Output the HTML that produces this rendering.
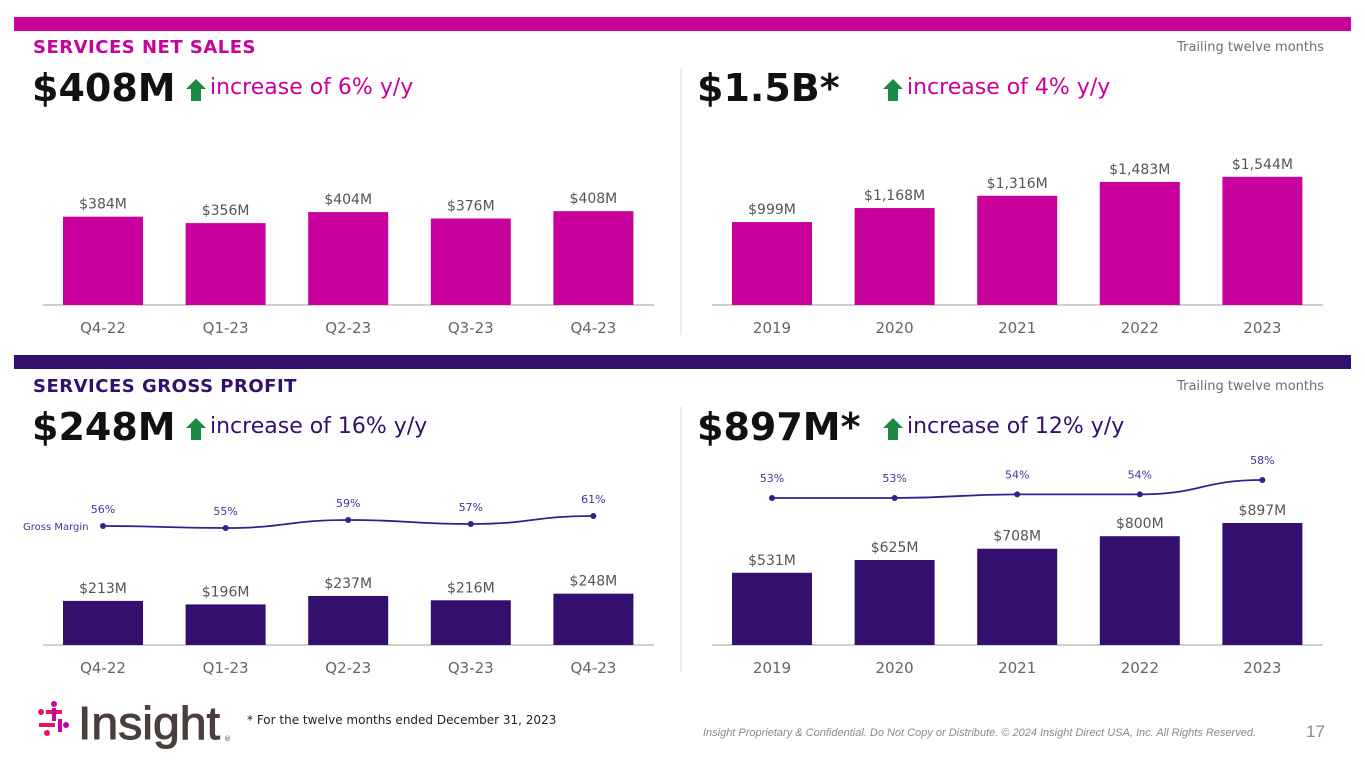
<!DOCTYPE html>
<html><head><meta charset="utf-8"><style>
body{margin:0;width:1365px;height:768px;background:#fff;font-family:"Liberation Sans","DejaVu Sans",sans-serif;overflow:hidden;position:relative}
.abs{position:absolute;white-space:nowrap}
.hdr{font-family:"DejaVu Sans",sans-serif;font-weight:bold;font-size:18px;letter-spacing:0.5px}
.ttm{font-family:"DejaVu Sans",sans-serif;font-size:13px;color:#6e6e6e}
.big{font-family:"DejaVu Sans",sans-serif;font-weight:bold;font-size:38px;color:#111}
.inc{font-family:"DejaVu Sans",sans-serif;font-size:22px}
.arr{position:absolute}
svg text{font-family:"DejaVu Sans",sans-serif}
</style></head><body>
<div class="abs" style="left:14px;top:17px;width:1337px;height:14px;background:#c8009c"></div>
<div class="abs" style="left:14px;top:355px;width:1337px;height:14px;background:#330f6e"></div>
<div class="abs hdr" style="left:33px;top:37px;color:#c8009c">SERVICES NET SALES</div>
<div class="abs ttm" style="right:41px;top:40px">Trailing twelve months</div>
<div class="abs hdr" style="left:33px;top:376px;color:#330f6e">SERVICES GROSS PROFIT</div>
<div class="abs ttm" style="right:41px;top:379px">Trailing twelve months</div>

<svg class="arr" style="left:186px;top:79px" width="20" height="23"><polygon points="10,0 20,10 15,10 15,22 5,22 5,10 0,10" fill="#1a8a45"/></svg>
<svg class="arr" style="left:883px;top:79px" width="20" height="23"><polygon points="10,0 20,10 15,10 15,22 5,22 5,10 0,10" fill="#1a8a45"/></svg>
<svg class="arr" style="left:186px;top:418px" width="20" height="23"><polygon points="10,0 20,10 15,10 15,22 5,22 5,10 0,10" fill="#1a8a45"/></svg>
<svg class="arr" style="left:883px;top:418px" width="20" height="23"><polygon points="10,0 20,10 15,10 15,22 5,22 5,10 0,10" fill="#1a8a45"/></svg>

<div class="abs big" style="left:32px;top:66px">$408M</div>
<div class="abs inc" style="left:210px;top:75px;color:#c8009c">increase of 6% y/y</div>
<div class="abs big" style="left:697px;top:66px">$1.5B*</div>
<div class="abs inc" style="left:907px;top:75px;color:#c8009c">increase of 4% y/y</div>
<div class="abs big" style="left:32px;top:405px">$248M</div>
<div class="abs inc" style="left:210px;top:414px;color:#330f6e">increase of 16% y/y</div>
<div class="abs big" style="left:697px;top:405px">$897M*</div>
<div class="abs inc" style="left:907px;top:414px;color:#330f6e">increase of 12% y/y</div>

<svg id="charts" class="abs" style="left:0;top:0" width="1365" height="768">
<line x1="681" y1="68" x2="681" y2="335" stroke="#d9d9d9"/>
<line x1="681" y1="407" x2="681" y2="672" stroke="#d9d9d9"/>
</svg>

<svg class="abs" style="left:37px;top:701px" width="200" height="52">
<circle cx="4" cy="11" r="3" fill="#e8175d"/><rect x="9" y="9" width="16" height="4" fill="#e8175d"/>
<circle cx="17" cy="3" r="3" fill="#c8009c"/><rect x="15" y="7" width="4" height="13" fill="#c8009c"/>
<rect x="2" y="22" width="16" height="4" fill="#e8175d"/><circle cx="29" cy="24" r="3" fill="#c8009c"/>
<rect x="21" y="18" width="4" height="13" fill="#c8009c"/><circle cx="10" cy="32" r="3" fill="#e8175d"/>
<text x="41" y="38" font-size="46" fill="#4a3f3d" stroke="#4a3f3d" stroke-width="1" style="font-family:'Liberation Sans',sans-serif" textLength="142" lengthAdjust="spacingAndGlyphs">Insight</text>
<text x="187" y="40" font-size="7" fill="#4a3f3d">®</text>
</svg>
<div class="abs" style="left:247px;top:713px;font-size:12px;font-family:'DejaVu Sans',sans-serif;color:#222">* For the twelve months ended December 31, 2023</div>
<div class="abs" style="right:109px;top:727px;font-size:11px;font-style:italic;color:#8a8a8a">Insight Proprietary &amp; Confidential. Do Not Copy or Distribute. © 2024 Insight Direct USA, Inc. All Rights Reserved.</div>
<div class="abs" style="left:1306px;top:722px;font-size:17px;color:#8a8a8a">17</div>

<script>
const qCats=["Q4-22","Q1-23","Q2-23","Q3-23","Q4-23"];
const yCats=["2019","2020","2021","2022","2023"];
const qSales=[384,356,404,376,408];
const ySales=[999,1168,1316,1483,1544];
const qGP=[213,196,237,216,248];
const yGP=[531,625,708,800,897];
const qGM=[56,55,59,57,61];
const yGM=[53,53,54,54,58];
const NS="http://www.w3.org/2000/svg";
const svg=document.getElementById('charts');
function mk(t,a){const e=document.createElementNS(NS,t);for(const k in a)e.setAttribute(k,a[k]);svg.appendChild(e);return e;}
function fmt(v){return "$"+v.toLocaleString("en-US")+"M";}
function barChart(cats,vals,x0,base,scale,color,prefix){
  const x=i=>x0+i*122.6;
  const ax=mk('line',{x1:x0-60,y1:base,x2:x0+551,y2:base,stroke:'#bfbfbf','stroke-width':1.5});
  
  
  cats.forEach((c,i)=>{
    const h=vals[i]*scale;
    const r=mk('rect',{x:x(i)-40,y:base-h,width:80,height:h,fill:color});
    
    
    const l=mk('text',{x:x(i),y:base-h-8,'text-anchor':'middle','font-size':14,fill:'#555'});l.textContent=fmt(vals[i]);
    
    
    const t=mk('text',{x:x(i),y:base+28,'text-anchor':'middle','font-size':15,fill:'#666'});t.textContent=c;
    
    
  });
}
function lineChart(vals,x0,yRef,vRef,k,off,prefix){
  const x=i=>x0+i*122.6, y=v=>yRef-(v-vRef)*k;
  let d="M"+x(0)+","+y(vals[0]);
  for(let i=1;i<vals.length;i++){const mx=(x(i-1)+x(i))/2;d+=" C"+mx+","+y(vals[i-1])+" "+mx+","+y(vals[i])+" "+x(i)+","+y(vals[i]);}
  const p=mk('path',{d:d,fill:'none',stroke:'#3a1d8c','stroke-width':1.8});
  
  
  vals.forEach((v,i)=>{
    const c=mk('circle',{cx:x(i),cy:y(v),r:3,fill:'#3a1d8c'});
    
    
    const t=mk('text',{x:x(i),y:y(v)-off,'text-anchor':'middle','font-size':11,fill:'#4b2fa0'});t.textContent=v+"%";
    
    
  });
}
barChart(qCats,qSales,103,305,0.23,'#c8009c','q-sales');
barChart(yCats,ySales,772,305,0.083,'#c8009c','ttm-sales');
barChart(qCats,qGP,103,645,0.207,'#330f6e','q-gp');
barChart(yCats,yGP,772,645,0.136,'#330f6e','ttm-gp');
lineChart(qGM,103,526,56,2,13,'q');
lineChart(yGM,772,498,53,3.6,16,'ttm');
const gm=mk('text',{x:23,y:530,'font-size':10,fill:'#4b2fa0'});gm.textContent="Gross Margin";


</script>
</body></html>
